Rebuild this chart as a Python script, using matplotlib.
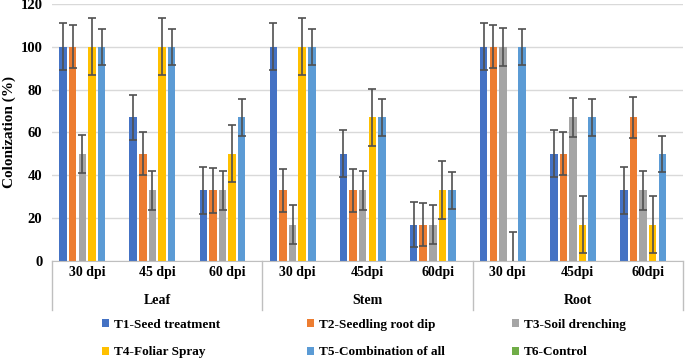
import numpy as np
import matplotlib.pyplot as plt
import matplotlib.transforms as mtransforms
from matplotlib.patches import Patch

plt.rcParams['font.family'] = ['Liberation Serif', 'DejaVu Serif']
plt.rcParams['font.weight'] = 'bold'

tissues = ["Leaf", "Stem", "Root"]
dpi_labels = ["30 dpi", "45 dpi", "60 dpi", "30 dpi", "45dpi", "60dpi", "30 dpi", "45dpi", "60dpi"]
treatments = ["T1-Seed treatment", "T2-Seedling root dip", "T3-Soil drenching",
              "T4-Foliar Spray", "T5-Combination of all", "T6-Control"]
colors = ["#4472C4", "#ED7D31", "#A5A5A5", "#FFC000", "#5B9BD5", "#70AD47"]

# colonization (%) per treatment over the 9 groups
t1 = [100, 67, 33, 100, 50, 17, 100, 50, 33]
t2 = [100, 50, 33, 33, 33, 17, 100, 50, 67]
t3 = [50, 33, 33, 17, 33, 17, 100, 67, 33]
t4 = [100, 100, 50, 100, 67, 33, 0, 17, 17]
t5 = [100, 100, 67, 100, 67, 33, 100, 67, 50]
t6 = [0, 0, 0, 0, 0, 0, 0, 0, 0]
# error bar sizes
e1 = [11, 10.5, 11, 11, 11, 10.5, 11, 11, 11]
e2 = [10, 10, 10.5, 10, 10, 10, 10, 10, 9.5]
e3 = [9, 9, 9, 9, 9, 9, 9, 9, 9]
e4 = [13.3, 13.3, 13.3, 13.3, 13.3, 13.5, 13.3, 13.3, 13.3]
e5 = [8.5, 8.5, 8.5, 8.5, 8.5, 8.5, 8.5, 8.5, 8.5]
e6 = [0] * 9

values = [t1, t2, t3, t4, t5, t6]
errors = [e1, e2, e3, e4, e5, e6]

fig = plt.figure(figsize=(6.85, 3.58), dpi=100)
ax = fig.add_axes([0.076, 0.271, 0.921, 0.718])

x = np.arange(len(dpi_labels))
pitch = 0.137
width = 0.107
for i in range(6):
    pos = x + (i - 2.5) * pitch
    ax.bar(pos, values[i], width, color=colors[i], zorder=2)
    if i < 5:
        ax.errorbar(pos, values[i], yerr=errors[i], fmt='none', ecolor='#505050',
                    elinewidth=1.2, capsize=3, capthick=1.2, zorder=3)

ax.set_xlim(-0.5, len(dpi_labels) - 0.5)
ax.set_ylim(0, 120)
ax.set_yticks(range(0, 121, 20))
ax.yaxis.grid(True, color='#D9D9D9', linewidth=1, zorder=0)
ax.set_axisbelow(True)
for s in ['top', 'right', 'left']:
    ax.spines[s].set_visible(False)
ax.spines['bottom'].set_color('#BFBFBF')
ax.tick_params(axis='y', length=0, labelsize=10.5, pad=7)
ax.set_xticks(x)
ax.set_xticklabels(dpi_labels, fontsize=10)
ax.tick_params(axis='x', length=0, pad=3.5)
ax.set_ylabel("Colonization (%)", fontsize=11, fontweight='bold')
ax.yaxis.set_label_coords(-0.057, 0.5)

trans = mtransforms.blended_transform_factory(ax.transData, ax.transAxes)
for k in range(len(tissues) + 1):
    xd = k * 3 - 0.5
    ax.plot([xd, xd], [0, -0.19], transform=trans, color='#BFBFBF', lw=1, clip_on=False)
for k, t in enumerate(tissues):
    ax.text(k * 3 + 1, -0.155, t, transform=trans, ha='center', va='center', fontsize=10)

# one legend per column so the columns sit at even spacing like the original
col_x = [102 / 685, 307 / 685, 512 / 685]
for c in range(3):
    hs = [Patch(facecolor=colors[c], label=treatments[c]),
          Patch(facecolor=colors[c + 3], label=treatments[c + 3])]
    fig.legend(handles=hs, loc='upper left', bbox_to_anchor=(col_x[c], 0.110),
               frameon=False, fontsize=9.5, handlelength=0.5, handleheight=0.5,
               handletextpad=0.4, borderpad=0, borderaxespad=0, labelspacing=1.2)

fig.savefig("out.png", dpi=100)
